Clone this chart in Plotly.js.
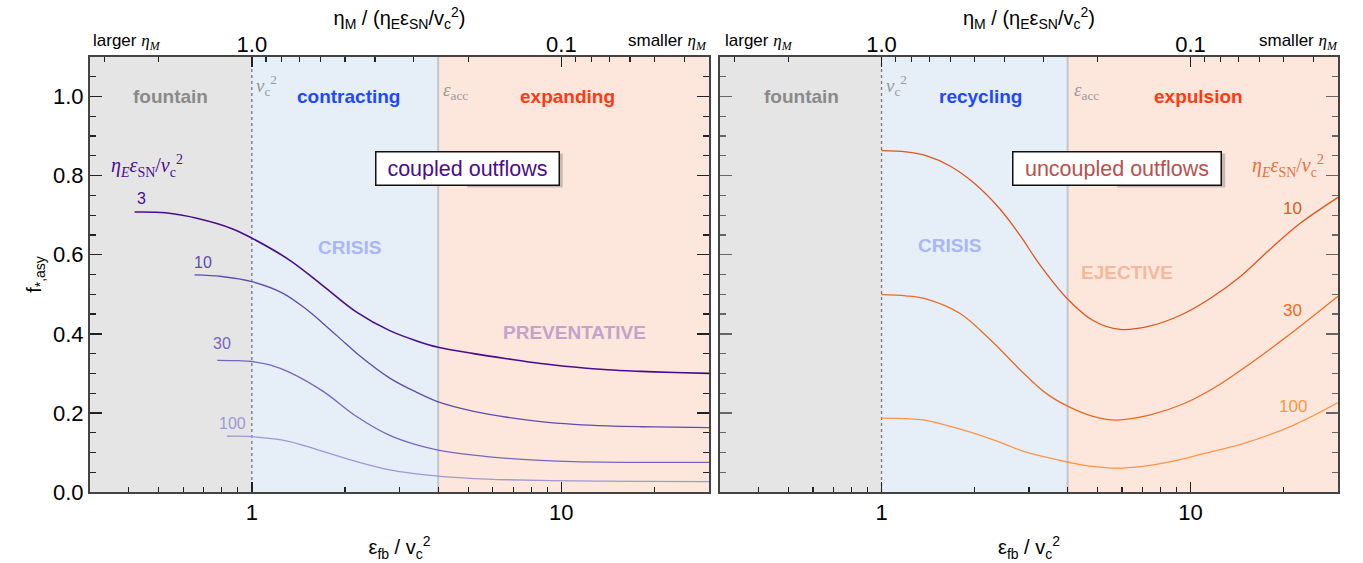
<!DOCTYPE html>
<html>
<head>
<meta charset="utf-8">
<script src="https://cdn.plot.ly/plotly-3.0.1.min.js"></script>
<style>html,body{margin:0;padding:0;background:#fff;}#chart{width:1363px;height:563px;}</style>
</head>
<body>
<div id="chart"></div>
<script>
// ---------------- DATA ----------------
// Left panel: coupled outflows, f_*,asy vs eps_fb / v_c^2, for eta_E eps_SN / v_c^2 = 3, 10, 30, 100
const coupledLevels = ['3', '10', '30', '100'];
const coupled3X = [0.418, 0.526, 0.674, 0.863, 1.0, 1.32, 1.695, 2.18, 2.79, 3.41, 4.0, 5.21, 6.68, 8.57, 11.0, 14.1, 18.1, 23.2, 30];
const coupled3Y = [0.708, 0.706, 0.691, 0.666, 0.642, 0.587, 0.522, 0.455, 0.408, 0.382, 0.366, 0.350, 0.337, 0.325, 0.316, 0.309, 0.305, 0.302, 0.300];
const coupled10X = [0.653, 0.80, 1.0, 1.257, 1.5, 1.695, 2.0, 2.18, 2.79, 3.41, 4.0, 5.21, 6.68, 8.57, 11.0, 14.1, 18.1, 23.2, 30];
const coupled10Y = [0.549, 0.545, 0.532, 0.503, 0.462, 0.427, 0.377, 0.351, 0.288, 0.252, 0.228, 0.204, 0.189, 0.178, 0.171, 0.167, 0.165, 0.164, 0.163];
const coupled30X = [0.773, 0.909, 1.0, 1.15, 1.32, 1.695, 2.18, 2.79, 3.41, 4.0, 5.21, 6.68, 8.57, 11.0, 18.1, 30];
const coupled30Y = [0.333, 0.332, 0.330, 0.321, 0.303, 0.255, 0.191, 0.143, 0.119, 0.106, 0.093, 0.085, 0.080, 0.077, 0.075, 0.075];
const coupled100X = [0.831, 1.0, 1.257, 1.45, 1.695, 2.18, 2.79, 3.41, 4.0, 5.21, 6.68, 11.0, 18.1, 30];
const coupled100Y = [0.141, 0.140, 0.131, 0.119, 0.103, 0.077, 0.056, 0.046, 0.040, 0.034, 0.031, 0.028, 0.027, 0.026];

// Right panel: uncoupled outflows, for eta_E eps_SN / v_c^2 = 10, 30, 100
const uncoupledLevels = ['10', '30', '100'];
const uncoupled10X = [1.0, 1.2, 1.4, 1.66, 2.0, 2.42, 2.8, 3.25, 4.0, 4.85, 5.92, 7.41, 9.27, 11.6, 14.5, 18.15, 22.7, 30];
const uncoupled10Y = [0.863, 0.860, 0.850, 0.825, 0.780, 0.715, 0.650, 0.575, 0.488, 0.433, 0.411, 0.420, 0.447, 0.490, 0.545, 0.615, 0.680, 0.745];
const uncoupled30X = [1.0, 1.2, 1.4, 1.79, 2.25, 2.8, 3.4, 4.0, 4.8, 5.75, 7.41, 9.62, 12.31, 15.62, 21.06, 30];
const uncoupled30Y = [0.499, 0.496, 0.488, 0.452, 0.385, 0.310, 0.250, 0.217, 0.192, 0.182, 0.195, 0.225, 0.270, 0.325, 0.400, 0.495];
const uncoupled100X = [1.0, 1.34, 1.6, 1.95, 2.4, 2.85, 3.4, 4.1, 4.8, 5.77, 7.0, 8.85, 11, 14.6, 21.4, 30];
const uncoupled100Y = [0.187, 0.183, 0.170, 0.151, 0.127, 0.104, 0.088, 0.074, 0.065, 0.0605, 0.065, 0.0785, 0.097, 0.121, 0.168, 0.226];

// Regime boundaries (eps_fb / v_c^2)
const xMin = 0.3, xMax = 30;
const boundaryVc2 = 1;
const boundaryAcc = 4;

// Tick labels
const bottomTickVals = [1, 10];
const bottomTickText = ['1', '10'];
const bottomMinorVals = [0.4, 0.5, 0.6, 0.7, 0.8, 0.9, 2, 3, 4, 5, 6, 7, 8, 9, 20];
const topTickVals = [1, 10];               // eta ratio 1.0 and 0.1  (x = 1/ratio)
const topTickText = ['1.0', '0.1'];
const topMinorRatios = [3, 2, 0.9, 0.8, 0.7, 0.6, 0.5, 0.4, 0.3, 0.2, 0.09, 0.08, 0.07, 0.06, 0.05, 0.04];
const yTickVals = [0, 0.2, 0.4, 0.6, 0.8, 1.0];
const yTickText = ['0.0', '0.2', '0.4', '0.6', '0.8', '1.0'];

// ---------------- STYLE ----------------
const coupledColors = ['#4a0c8f', '#5f4cae', '#7666c4', '#9d98d6'];
const coupledWidths = [1.6, 1.3, 1.3, 1.3];
const uncoupledColors = ['#e0561c', '#ee6a22', '#ff9444'];
const SANS = 'Liberation Sans, Arial, Helvetica, sans-serif';
const SERIF = 'Liberation Serif, Times New Roman, serif';

const L = Math.log10;
const traces = [];
const cX = [coupled3X, coupled10X, coupled30X, coupled100X];
const cY = [coupled3Y, coupled10Y, coupled30Y, coupled100Y];
cX.forEach((xs, i) => traces.push({
  x: xs, y: cY[i], xaxis: 'x', yaxis: 'y', type: 'scatter', mode: 'lines',
  name: coupledLevels[i], line: {color: coupledColors[i], width: coupledWidths[i], shape: 'spline', smoothing: 1},
  hoverinfo: 'skip'
}));
const uX = [uncoupled10X, uncoupled30X, uncoupled100X];
const uY = [uncoupled10Y, uncoupled30Y, uncoupled100Y];
uX.forEach((xs, i) => traces.push({
  x: xs, y: uY[i], xaxis: 'x2', yaxis: 'y2', type: 'scatter', mode: 'lines',
  name: uncoupledLevels[i], line: {color: uncoupledColors[i], width: 1.3, shape: 'spline', smoothing: 1},
  hoverinfo: 'skip'
}));

const topMinorVals = topMinorRatios.map(r => 1 / r);

function bottomAxis(domain, anchor) {
  return {
    domain: domain, anchor: anchor, type: 'log', range: [L(xMin), L(xMax)],
    tickmode: 'array', tickvals: bottomTickVals, ticktext: bottomTickText,
    ticks: 'inside', ticklen: 10, tickwidth: 1.5, tickcolor: '#222',
    minor: {tickmode: 'array', tickvals: bottomMinorVals, ticks: 'inside', ticklen: 5, tickwidth: 1.2, tickcolor: '#222', showgrid: false},
    tickfont: {size: 22, family: SANS, color: '#000'},
    showline: true, linecolor: '#444', linewidth: 2, mirror: true,
    showgrid: false, zeroline: false,
    title: {text: 'ε<sub>fb</sub> / v<sub>c</sub><sup>2</sup>', font: {size: 20, family: SANS, color: '#000'}, standoff: 16}
  };
}
function topAxis(overlay, anchor) {
  return {
    overlaying: overlay, anchor: anchor, side: 'top', type: 'log', range: [L(xMin), L(xMax)],
    tickmode: 'array', tickvals: topTickVals, ticktext: topTickText,
    ticks: 'inside', ticklen: 10, tickwidth: 1.5, tickcolor: '#222',
    minor: {tickmode: 'array', tickvals: topMinorVals, ticks: 'inside', ticklen: 5, tickwidth: 1.2, tickcolor: '#222', showgrid: false},
    tickfont: {size: 22, family: SANS, color: '#000'},
    showline: false, showgrid: false, zeroline: false,
    title: {text: 'η<sub>M</sub> / (η<sub>E</sub>ε<sub>SN</sub>/v<sub>c</sub><sup>2</sup>)', font: {size: 20, family: SANS, color: '#000'}, standoff: 0}
  };
}
function yAxis(anchor, showLabels, tickColor) {
  return {
    domain: [0, 1], anchor: anchor, range: [0, 1.1],
    tickmode: 'array', tickvals: yTickVals, ticktext: yTickText, showticklabels: showLabels,
    ticks: 'inside', ticklen: 12, tickwidth: 1.5, tickcolor: tickColor,
    minor: {dtick: 0.05, ticks: 'inside', ticklen: 6, tickwidth: 1.2, tickcolor: tickColor, showgrid: false},
    tickfont: {size: 22, family: SANS, color: '#000'},
    showline: true, linecolor: '#444', linewidth: 2, mirror: 'ticks',
    showgrid: false, zeroline: false,
    title: showLabels ? {text: 'f<sub>*,asy</sub>', font: {size: 20, family: SANS, color: '#000'}, standoff: 6} : {text: ''}
  };
}

// Regime backgrounds and boundary lines (shape x in data units)
const shapes = [];
[['x', 'y'], ['x2', 'y2']].forEach(([xr, yr]) => {
  const yd = yr + ' domain';
  shapes.push({type: 'rect', xref: xr, yref: yd, x0: xMin, x1: boundaryVc2, y0: 0, y1: 1, fillcolor: '#e5e5e5', line: {width: 0}, layer: 'below'});
  shapes.push({type: 'rect', xref: xr, yref: yd, x0: boundaryVc2, x1: boundaryAcc, y0: 0, y1: 1, fillcolor: '#e6eef8', line: {width: 0}, layer: 'below'});
  shapes.push({type: 'rect', xref: xr, yref: yd, x0: boundaryAcc, x1: xMax, y0: 0, y1: 1, fillcolor: '#fde7dd', line: {width: 0}, layer: 'below'});
  shapes.push({type: 'line', xref: xr, yref: yd, x0: boundaryVc2, x1: boundaryVc2, y0: 0, y1: 1, line: {color: '#777', width: 1.3, dash: 'dot'}, layer: 'below'});
  shapes.push({type: 'line', xref: xr, yref: yd, x0: boundaryAcc, x1: boundaryAcc, y0: 0, y1: 1, line: {color: '#c4c6cc', width: 2}, layer: 'below'});
});
// drop shadows of the two label boxes (pixel-sized, anchored in data units)
const boxes = [
  {xr: 'x', yr: 'y', x: Math.pow(10, 0.696), y: 0.818, w: 187},
  {xr: 'x2', yr: 'y2', x: Math.pow(10, 0.7627), y: 0.818, w: 212}
];
boxes.forEach(b => shapes.push({
  type: 'rect', xref: b.xr, yref: b.yr, xsizemode: 'pixel', ysizemode: 'pixel',
  xanchor: b.x, yanchor: b.y, x0: -b.w / 2 + 2, x1: b.w / 2 + 2, y0: -17 - 2, y1: 17 - 2,
  fillcolor: 'rgba(0,0,0,0.2)', line: {width: 0}, layer: 'above'
}));

function ann(xr, yr, x, y, text, size, color, opts) {
  return Object.assign({xref: xr, yref: yr, x: x, y: y, text: text, showarrow: false,
    font: {size: size, color: color, family: SANS}, xanchor: 'center', yanchor: 'middle'}, opts || {});
}
const vc2 = '<i>v</i><sub>c</sub><sup>2</sup>';
const eacc = '<i>ε</i><sub>acc</sub>';
const etaLabel = '<i>η<sub>E</sub>ε</i><sub>SN</sub>/<i>v</i><sub>c</sub><sup>2</sup>';
const etaM = '<span style="font-family:Liberation Serif"><i>η<sub>M</sub></i></span>';
const topRowY = 1.0345;

const annotations = [
  // left panel
  ann('paper', 'paper', 0.0012, topRowY, 'larger ' + etaM, 17, '#000', {xanchor: 'left'}),
  ann('paper', 'paper', 0.496, topRowY, 'smaller ' + etaM, 17, '#000', {xanchor: 'right'}),
  ann('x', 'y', -0.2627, 1.0, '<b>fountain</b>', 19, '#8a8a8a'),
  ann('x', 'y', 0.3127, 1.0, '<b>contracting</b>', 19, '#1e48ff'),
  ann('x', 'y', 1.0205, 1.0, '<b>expanding</b>', 19, '#ff3a12'),
  ann('x', 'y', 0.008, 1.028, vc2, 19, '#999', {xanchor: 'left', font: {size: 19, color: '#999', family: SERIF}}),
  ann('x', 'y', 0.612, 1.015, eacc, 19, '#999', {xanchor: 'left', font: {size: 19, color: '#999', family: SERIF}}),
  ann('x', 'y', -0.3383, 0.825, etaLabel, 20, '#4a0c8f', {font: {size: 20, color: '#4a0c8f', family: SERIF}}),
  ann('x', 'y', -0.356, 0.742, coupledLevels[0], 16, coupledColors[0]),
  ann('x', 'y', -0.158, 0.580, coupledLevels[1], 16, coupledColors[1]),
  ann('x', 'y', -0.0974, 0.375, coupledLevels[2], 16, coupledColors[2]),
  ann('x', 'y', -0.064, 0.172, coupledLevels[3], 16, coupledColors[3]),
  ann('x', 'y', 0.316, 0.6195, '<b>CRISIS</b>', 19, '#a9b6f7'),
  ann('x', 'y', 1.041, 0.404, '<b>PREVENTATIVE</b>', 19, '#c5a2c9'),
  ann('x', 'y', 0.696, 0.818, 'coupled outflows', 21.5, '#4a0c8f', {bgcolor: '#fff', bordercolor: '#111', borderwidth: 1.5, borderpad: 5, width: 172, height: 22}),
  // right panel
  ann('paper', 'paper', 0.507, topRowY, 'larger ' + etaM, 17, '#000', {xanchor: 'left'}),
  ann('paper', 'paper', 1.0015, topRowY, 'smaller ' + etaM, 17, '#000', {xanchor: 'right'}),
  ann('x2', 'y2', -0.2583, 1.0, '<b>fountain</b>', 19, '#8a8a8a'),
  ann('x2', 'y2', 0.3203, 1.0, '<b>recycling</b>', 19, '#1e48ff'),
  ann('x2', 'y2', 1.0253, 1.0, '<b>expulsion</b>', 19, '#ff3a12'),
  ann('x2', 'y2', 0.008, 1.028, vc2, 19, '#999', {xanchor: 'left', font: {size: 19, color: '#999', family: SERIF}}),
  ann('x2', 'y2', 0.617, 1.015, eacc, 19, '#999', {xanchor: 'left', font: {size: 19, color: '#999', family: SERIF}}),
  ann('x2', 'y2', 1.3139, 0.825, etaLabel, 20, '#e8703a', {font: {size: 20, color: '#e8703a', family: SERIF}}),
  ann('x2', 'y2', 1.330, 0.716, uncoupledLevels[0], 17, uncoupledColors[0]),
  ann('x2', 'y2', 1.330, 0.458, uncoupledLevels[1], 17, uncoupledColors[1]),
  ann('x2', 'y2', 1.333, 0.215, uncoupledLevels[2], 17, uncoupledColors[2]),
  ann('x2', 'y2', 0.219, 0.623, '<b>CRISIS</b>', 19, '#a9b6f7'),
  ann('x2', 'y2', 0.794, 0.554, '<b>EJECTIVE</b>', 19, '#f6b89b'),
  ann('x2', 'y2', 0.7627, 0.818, 'uncoupled outflows', 21.5, '#b9504c', {bgcolor: '#fff', bordercolor: '#111', borderwidth: 1.5, borderpad: 5, width: 197, height: 22})
];

const layout = {
  width: 1363, height: 563,
  margin: {l: 90, r: 25, t: 57, b: 71, pad: 0},
  paper_bgcolor: '#fff', plot_bgcolor: '#fff',
  font: {family: SANS, color: '#000'},
  showlegend: false,
  xaxis: bottomAxis([0, 0.496], 'y'),
  xaxis2: bottomAxis([0.5048, 1], 'y2'),
  xaxis3: topAxis('x', 'y'),
  xaxis4: topAxis('x2', 'y2'),
  yaxis: yAxis('x', true, '#222'),
  yaxis2: yAxis('x2', false, '#666'),
  shapes: shapes,
  annotations: annotations
};
// invisible traces so the top (reciprocal) axes are drawn
traces.push({x: [xMin], y: [0], xaxis: 'x3', yaxis: 'y', mode: 'markers', marker: {opacity: 0}, hoverinfo: 'skip'});
traces.push({x: [xMin], y: [0], xaxis: 'x4', yaxis: 'y2', mode: 'markers', marker: {opacity: 0}, hoverinfo: 'skip'});

Plotly.newPlot('chart', traces, layout, {staticPlot: true, displayModeBar: false});
</script>
</body>
</html>
